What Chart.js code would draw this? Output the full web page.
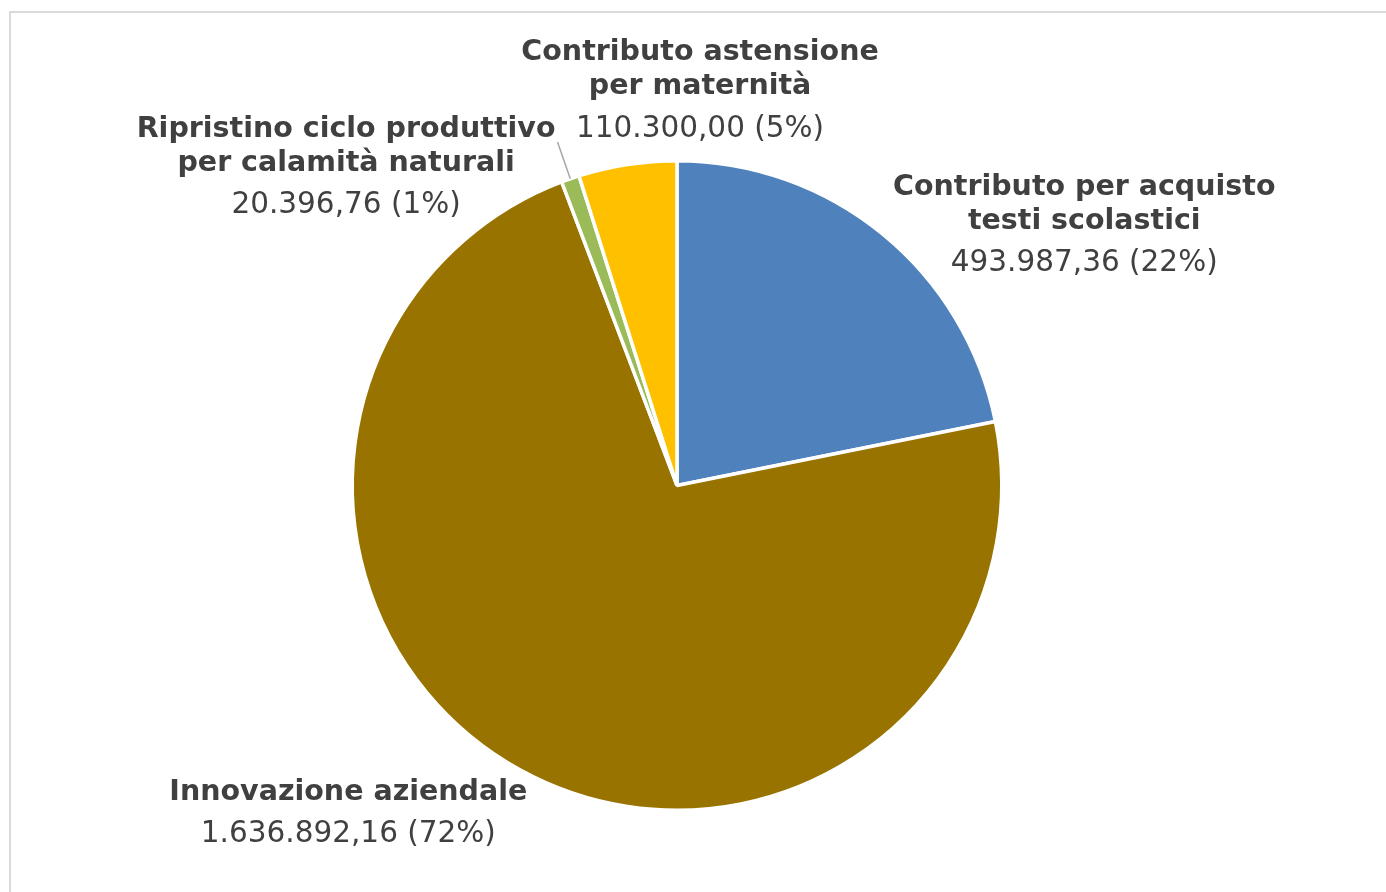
<!DOCTYPE html>
<html>
<head>
<meta charset="utf-8">
<script src="https://cdn.jsdelivr.net/npm/chart.js@4.4.1/dist/chart.umd.min.js"></script>
<style>
  html, body { margin: 0; padding: 0; background: #fff; overflow: hidden; }
  #frame {
    position: absolute; left: 9px; top: 11px; width: 1400px; height: 900px;
    border-left: 2px solid #d9d9d9; border-top: 2px solid #d9d9d9;
  }
  #wrap { position: absolute; left: 0; top: 0; width: 1386px; height: 892px; }
</style>
</head>
<body>
<div id="frame"></div>
<div id="wrap"><canvas id="pie"></canvas></div>
<script>
// data
const categories = [
  ['Contributo per acquisto', 'testi scolastici'],
  ['Innovazione aziendale'],
  ['Ripristino ciclo produttivo', 'per calamità naturali'],
  ['Contributo astensione', 'per maternità']
];
const amounts = [493987.36, 1636892.16, 20396.76, 110300.00];
const colors = ['#4f81bd', '#997300', '#9bbb59', '#ffc000'];

// where each label sits, relative to the pie centre, in radius units
const labelAnchors = [[1.254, -0.917], [-1.012, 0.946], [-1.019, -1.096], [0.071, -1.332]];
const leaderLines = [false, false, true, false];

const total = amounts.reduce((a, b) => a + b, 0);
const fmt = new Intl.NumberFormat('it-IT', { minimumFractionDigits: 2, maximumFractionDigits: 2 });

const labelPlugin = {
  id: 'outerLabels',
  afterDatasetsDraw(chart) {
    const ctx = chart.ctx;
    const meta = chart.getDatasetMeta(0);
    ctx.save();
    meta.data.forEach((arc, i) => {
      const r = arc.outerRadius;
      const cx = arc.x, cy = arc.y;
      if (leaderLines[i]) {
        const mid = (arc.startAngle + arc.endAngle) / 2;
        ctx.strokeStyle = '#a6a6a6';
        ctx.lineWidth = 1.5;
        ctx.beginPath();
        ctx.moveTo(cx + Math.cos(mid) * r, cy + Math.sin(mid) * r);
        ctx.lineTo(cx + Math.cos(mid) * r * 1.12, cy + Math.sin(mid) * r * 1.12);
        ctx.stroke();
      }
      const lx = cx + labelAnchors[i][0] * r;
      let ly = cy + labelAnchors[i][1] * r;
      ctx.fillStyle = '#404040';
      ctx.textAlign = 'center';
      ctx.textBaseline = 'middle';
      ctx.font = 'bold 28.5px "DejaVu Sans", sans-serif';
      categories[i].forEach((line, k) => {
        ctx.fillText(line, lx, ly);
        if (k < categories[i].length - 1) ly += 34;
      });
      ly += 42;
      ctx.font = '29.5px "DejaVu Sans", sans-serif';
      const pct = Math.round(amounts[i] / total * 100);
      ctx.fillText(fmt.format(amounts[i]) + ' (' + pct + '%)', lx, ly);
    });
    ctx.restore();
  }
};

new Chart(document.getElementById('pie'), {
  type: 'pie',
  data: {
    labels: categories.map(c => c.join(' ')),
    datasets: [{
      data: amounts,
      backgroundColor: colors,
      borderColor: '#ffffff',
      borderWidth: 3.5
    }]
  },
  options: {
    responsive: true,
    maintainAspectRatio: false,
    animation: false,
    layout: { padding: { top: 159, bottom: 80, left: 0, right: 32 } },
    plugins: {
      legend: { display: false },
      tooltip: { enabled: false }
    }
  },
  plugins: [labelPlugin]
});
</script>
</body>
</html>
